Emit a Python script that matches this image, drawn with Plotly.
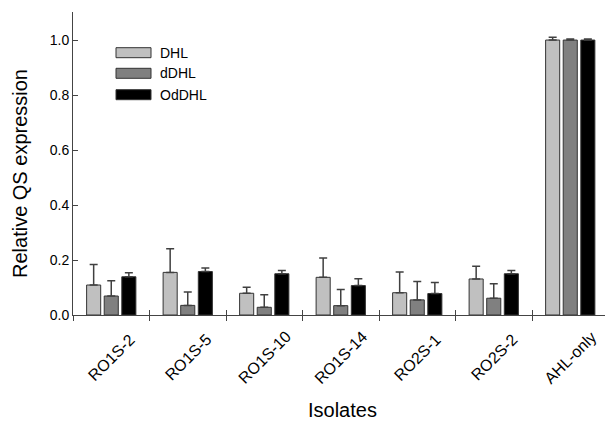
import plotly.graph_objects as go

categories = ["RO1S-2", "RO1S-5", "RO1S-10", "RO1S-14", "RO2S-1", "RO2S-2", "AHL-only"]
series_names = ["DHL", "dDHL", "OdDHL"]
dhl = [0.109, 0.155, 0.079, 0.137, 0.081, 0.131, 1.000]
dhl_err = [0.075, 0.086, 0.022, 0.070, 0.075, 0.046, 0.010]
ddhl = [0.069, 0.035, 0.028, 0.034, 0.055, 0.061, 1.000]
ddhl_err = [0.056, 0.049, 0.046, 0.059, 0.067, 0.053, 0.004]
oddhl = [0.139, 0.158, 0.150, 0.107, 0.078, 0.150, 1.000]
oddhl_err = [0.015, 0.013, 0.012, 0.025, 0.040, 0.012, 0.004]
y_ticks = [0.0, 0.2, 0.4, 0.6, 0.8, 1.0]
colors = ["#c0c0c0", "#808080", "#000000"]

FONT = "Liberation Sans, Arial, sans-serif"
W, H = 605, 423
L_M, R_M, T_M, B_M = 73, 0, 12, 108
PW, PH = W - L_M - R_M, H - T_M - B_M


def px_x(px):
    return (px - L_M) / PW


def px_y(py):
    return (H - B_M - py) / PH


fig = go.Figure()
for name, vals, errs, col in zip(series_names, [dhl, ddhl, oddhl],
                                 [dhl_err, ddhl_err, oddhl_err], colors):
    fig.add_trace(go.Bar(
        x=categories, y=vals, name=name,
        marker=dict(color=col, line=dict(color="#333333", width=1)),
        error_y=dict(type="data", symmetric=False, array=errs,
                     arrayminus=[0] * len(errs), color="#404040",
                     thickness=1.5, width=4),
        showlegend=False,
    ))

# invisible trace to carry the second (outside-tick) x axis
fig.add_trace(go.Scatter(x=categories, y=[None] * len(categories), xaxis="x2",
                         showlegend=False, hoverinfo="skip", mode="markers"))

# manual legend (long rectangular swatches like the original)
leg_y = [52.7, 73.3, 94.7]
for name, col, yc in zip(series_names, colors, leg_y):
    fig.add_shape(type="rect", xref="paper", yref="paper",
                  x0=px_x(116), x1=px_x(151), y0=px_y(yc + 5), y1=px_y(yc - 5),
                  fillcolor=col, line=dict(color="#333333", width=1))
    fig.add_annotation(xref="paper", yref="paper", x=px_x(158), y=px_y(yc),
                       text=name, showarrow=False, xanchor="left", yanchor="middle",
                       font=dict(family=FONT, size=14, color="black"))

# rotated category labels, centred under each category
for cat in categories:
    fig.add_annotation(xref="x", yref="paper", x=cat, y=px_y(357),
                       text=cat, showarrow=False, textangle=-45,
                       xanchor="center", yanchor="middle",
                       font=dict(family=FONT, size=16, color="black"))

# axis titles
fig.add_annotation(xref="paper", yref="paper", x=px_x(342), y=px_y(410),
                   text="Isolates", showarrow=False, xanchor="center", yanchor="middle",
                   font=dict(family=FONT, size=20, color="black"))
fig.add_annotation(xref="paper", yref="paper", x=px_x(20), y=px_y(174),
                   text="Relative QS expression", showarrow=False, textangle=-90,
                   xanchor="center", yanchor="middle",
                   font=dict(family=FONT, size=20, color="black"))

fig.update_layout(
    width=W, height=H,
    margin=dict(l=L_M, r=R_M, t=T_M, b=B_M),
    paper_bgcolor="white", plot_bgcolor="white",
    barmode="group", bargap=0.31, bargroupgap=0.2,
    font=dict(family=FONT, color="black"),
    xaxis=dict(
        type="category", categoryorder="array", categoryarray=categories,
        range=[-0.5, -0.5 + PW / 76.5],
        tickson="boundaries", ticks="inside", ticklen=5, tickcolor="#444444",
        showticklabels=False,
        showline=True, linecolor="#444444", linewidth=1, showgrid=False,
    ),
    xaxis2=dict(
        type="category", categoryorder="array", categoryarray=categories,
        range=[-0.5, -0.5 + PW / 76.5], overlaying="x", side="bottom",
        tickson="boundaries", ticks="outside", ticklen=5, tickcolor="#444444",
        showticklabels=False, showline=False, showgrid=False,
    ),
    yaxis=dict(
        range=[0, 1.102], tickvals=y_ticks, ticktext=[f"{v:.1f}" for v in y_ticks],
        ticks="inside", ticklen=5, tickcolor="#444444",
        tickfont=dict(family=FONT, size=14, color="black"),
        showline=True, linecolor="#444444", linewidth=1, showgrid=False, zeroline=False,
    ),
)

fig.write_html("out.html")
